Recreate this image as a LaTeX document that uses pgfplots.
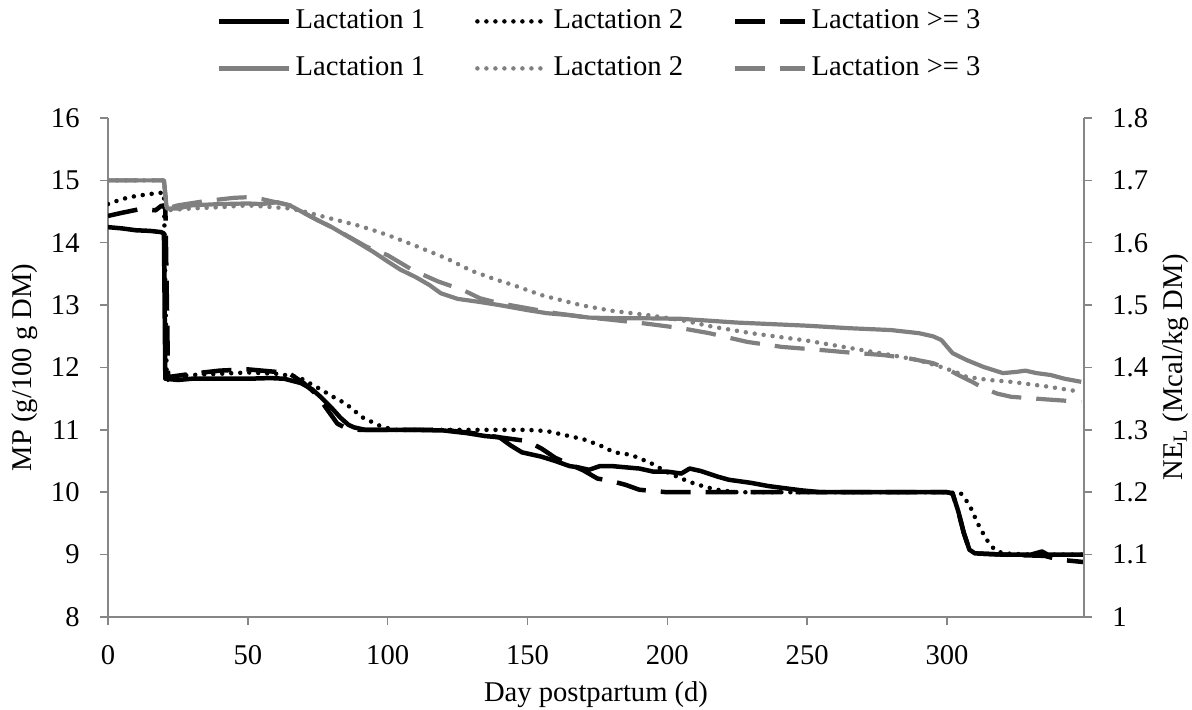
\documentclass[border=0pt]{standalone}
\usepackage{fontspec}
\setmainfont{Liberation Serif}
\usepackage{pgfplots}
\pgfplotsset{compat=1.18}
\pgfkeys{/pgf/number format/assume math mode=true}
\definecolor{axgray}{RGB}{134,134,134}
\definecolor{lgray}{RGB}{128,128,128}
\pgfplotsset{
  base/.style={
    scale only axis, width=488pt, height=249.5pt, at={(0pt,0pt)}, anchor=south west,
    xmin=0, xmax=349,
    /pgf/number format/assume math mode=true,
    xticklabel={\pgfmathprintnumber[assume math mode=true]{\tick}},
    yticklabel={\pgfmathprintnumber[assume math mode=true]{\tick}},
    axis line style={axgray, line width=0.75pt, -},
    every tick/.style={axgray, line width=0.75pt},
    major tick length=4pt,
  },
  s1/.style={black, line width=2.25pt, line join=round},
  s2/.style={black, line width=2.25pt, line cap=round, line join=round, dash pattern=on 0pt off 4.5pt},
  s3/.style={black, line width=2.25pt, line join=round, dash pattern=on 15pt off 7.5pt},
  g1/.style={lgray, line width=2.1pt, line join=round},
  g2/.style={lgray, line width=2.25pt, line cap=round, line join=round, dash pattern=on 0pt off 4.5pt},
  g3/.style={lgray, line width=2.1pt, line join=round, dash pattern=on 15pt off 7.5pt},
}
\begin{document}
\begin{tikzpicture}[font=\fontsize{14.3}{17}\selectfont]
\useasboundingbox (-54pt,-46.5pt) rectangle (542pt,308.5pt);
\begin{axis}[base,
  ymin=8, ymax=16, ytick={8,9,10,11,12,13,14,15,16},
  xtick={0,50,100,150,200,250,300},
  axis x line*=bottom, axis y line*=left,
  tick align=outside,
  xticklabel style={anchor=north, inner sep=0pt, yshift=-10pt},
  yticklabel style={anchor=east, inner sep=0pt, xshift=-10pt},
  xlabel={Day postpartum (d)},
  xlabel style={at={(axis description cs:0.5,0)}, anchor=base, yshift=-42.5pt},
  ylabel={MP (g/100 g DM)},
  ylabel style={at={(axis description cs:-0.085,0.5)}, anchor=center},
]
% Lactation 1 (MP)
\addplot[s1] coordinates {
(0,14.25) (5,14.23) (10,14.2) (15,14.19) (19,14.17) (20,14.15) (20.5,11.82) (25,11.8) (30,11.82) (40,11.82) (50,11.82) (58,11.83) (63,11.82) (69,11.75) (73,11.65) (76,11.53) (80,11.35) (83,11.2) (86,11.08) (88,11.04) (92,11.0) (100,11.0) (110,11.0) (120,10.99) (128,10.95) (135,10.9) (140,10.88) (144,10.75) (148,10.64) (155,10.57) (160,10.5) (165,10.42) (168,10.4) (172,10.36) (176,10.42) (180,10.42) (185,10.4) (190,10.38) (195,10.33) (200,10.33) (205,10.3) (208,10.38) (212,10.34) (218,10.25) (222,10.2) (230,10.15) (236,10.1) (241,10.07) (248,10.03) (255,10.0) (270,10.0) (290,10.0) (300,10.0) (302,9.98) (304,9.7) (306,9.35) (308,9.08) (310,9.02) (320,9.0) (330,9.0) (334,9.05) (336,9.0) (349,9.0)
};
% Lactation 2 (MP)
\addplot[s2] coordinates {
(0,14.62) (5,14.7) (10,14.75) (15,14.78) (18,14.8) (20,14.8) (21,11.85) (30,11.88) (40,11.9) (50,11.92) (60,11.9) (68,11.85) (72,11.75) (76,11.65) (80.5,11.53) (85,11.42) (91,11.2) (97,11.07) (102,11.0) (120,11.0) (140,11.0) (150,11.0) (157,10.98) (163,10.92) (170,10.85) (176,10.75) (181,10.64) (187,10.6) (194,10.47) (200,10.32) (205,10.22) (209,10.15) (214,10.08) (219,10.03) (225,10.0) (300,10.0) (305,9.98) (308,9.8) (311,9.5) (314,9.25) (317,9.08) (320,9.02) (330,9.0) (349,9.0)
};
% Lactation >= 3 (MP)
\addplot[s3] coordinates {
(0,14.43) (5,14.48) (11.5,14.54) (17,14.52) (19,14.59) (20.5,14.6) (21.5,11.8) (22,11.85) (30,11.9) (40,11.95) (50,11.97) (60,11.93) (65,11.9) (70,11.75) (75,11.55) (78,11.35) (82,11.1) (85,11.03) (90,11.0) (100,11.0) (120,11.0) (130,10.95) (140,10.88) (150,10.82) (155,10.7) (160,10.55) (165,10.45) (170,10.35) (175,10.22) (180,10.18) (185,10.12) (190,10.04) (195,10.02) (200,10.0) (250,10.0) (300,10.0) (302,9.98) (304,9.7) (306,9.35) (308,9.08) (310,9.02) (320,9.0) (335,8.98) (340,8.92) (349,8.88)
};
\end{axis}
\begin{axis}[base,
  ymin=1, ymax=1.8, ytick={1,1.1,1.2,1.3,1.4,1.5,1.6,1.7,1.8},
  axis x line=none, axis y line*=right,
  tick align=outside,
  yticklabel style={anchor=west, inner sep=0pt, xshift=10pt},
  ylabel={NE\textsubscript{L} (Mcal/kg DM)},
  ylabel style={at={(axis description cs:1.094,0.5)}, anchor=center},
  legend columns=3,
  legend cell align=left,
  legend image code/.code={\draw[#1] (0pt,0pt) -- (35pt,0pt);},
  legend style={at={(axis description cs:0.1115,1.2204)}, anchor=north west,
    draw=none, fill=none, inner sep=0pt, row sep=10.5pt,
    nodes={inner sep=0pt, text height=10pt, text depth=3pt},
    /tikz/every odd column/.append style={column sep=2pt},
    /tikz/every even column/.append style={column sep=25pt}},
]
\addlegendimage{s1}\addlegendentry{Lactation 1}
\addlegendimage{s2}\addlegendentry{Lactation 2}
\addlegendimage{s3}\addlegendentry{Lactation >= 3}
% Lactation 1 (NEL)
\addplot[g1] coordinates {
(0,1.7) (20,1.7) (21,1.655) (25,1.655) (30,1.66) (40,1.662) (50,1.663) (55,1.662) (60.5,1.665) (65,1.66) (70,1.648) (75,1.636) (80,1.625) (88,1.604) (95,1.585) (100,1.57) (104.5,1.557) (110,1.545) (115,1.532) (119,1.519) (125,1.51) (133,1.505) (140,1.5) (150,1.492) (157,1.487) (165,1.484) (172,1.48) (181,1.479) (190,1.479) (205,1.478) (215,1.475) (225,1.472) (240,1.469) (250,1.467) (265,1.463) (280,1.46) (290,1.455) (295,1.45) (298,1.444) (302,1.423) (307,1.412) (313,1.401) (320,1.391) (325,1.393) (328,1.395) (332,1.391) (337,1.388) (342,1.382) (348,1.377)
};
\addlegendentry{Lactation 1}
% Lactation 2 (NEL)
\addplot[g2] coordinates {
(0,1.7) (20,1.7) (21,1.652) (30,1.655) (40,1.657) (50,1.66) (59,1.657) (65,1.655) (70,1.65) (79.5,1.639) (90,1.627) (97,1.617) (102,1.609) (110,1.595) (121,1.575) (130,1.555) (138,1.542) (145,1.532) (155,1.516) (169,1.5) (180,1.491) (193,1.484) (205,1.476) (216.6,1.465) (230,1.455) (240,1.449) (250,1.443) (265.6,1.431) (280,1.42) (289.5,1.412) (297.8,1.401) (303,1.393) (307,1.385) (315,1.38) (323,1.377) (335,1.37) (348,1.361)
};
\addlegendentry{Lactation 2}
% Lactation >= 3 (NEL)
\addplot[g3] coordinates {
(0,1.7) (20,1.7) (21,1.655) (25,1.66) (35,1.667) (45,1.672) (50,1.673) (55,1.67) (60,1.665) (65,1.66) (70,1.648) (75,1.636) (80,1.625) (86,1.61) (92.7,1.593) (100,1.58) (109,1.556) (118,1.538) (127,1.524) (133,1.511) (140,1.503) (150,1.495) (160,1.487) (170,1.481) (181,1.476) (193,1.47) (205,1.463) (215,1.455) (228.6,1.441) (241,1.433) (255,1.428) (265,1.424) (277,1.42) (286,1.415) (295,1.407) (300,1.398) (304,1.388) (309,1.377) (313,1.367) (318,1.358) (323,1.353) (335,1.349) (348,1.345)
};
\addlegendentry{Lactation >= 3}
\end{axis}
\end{tikzpicture}
\end{document}
